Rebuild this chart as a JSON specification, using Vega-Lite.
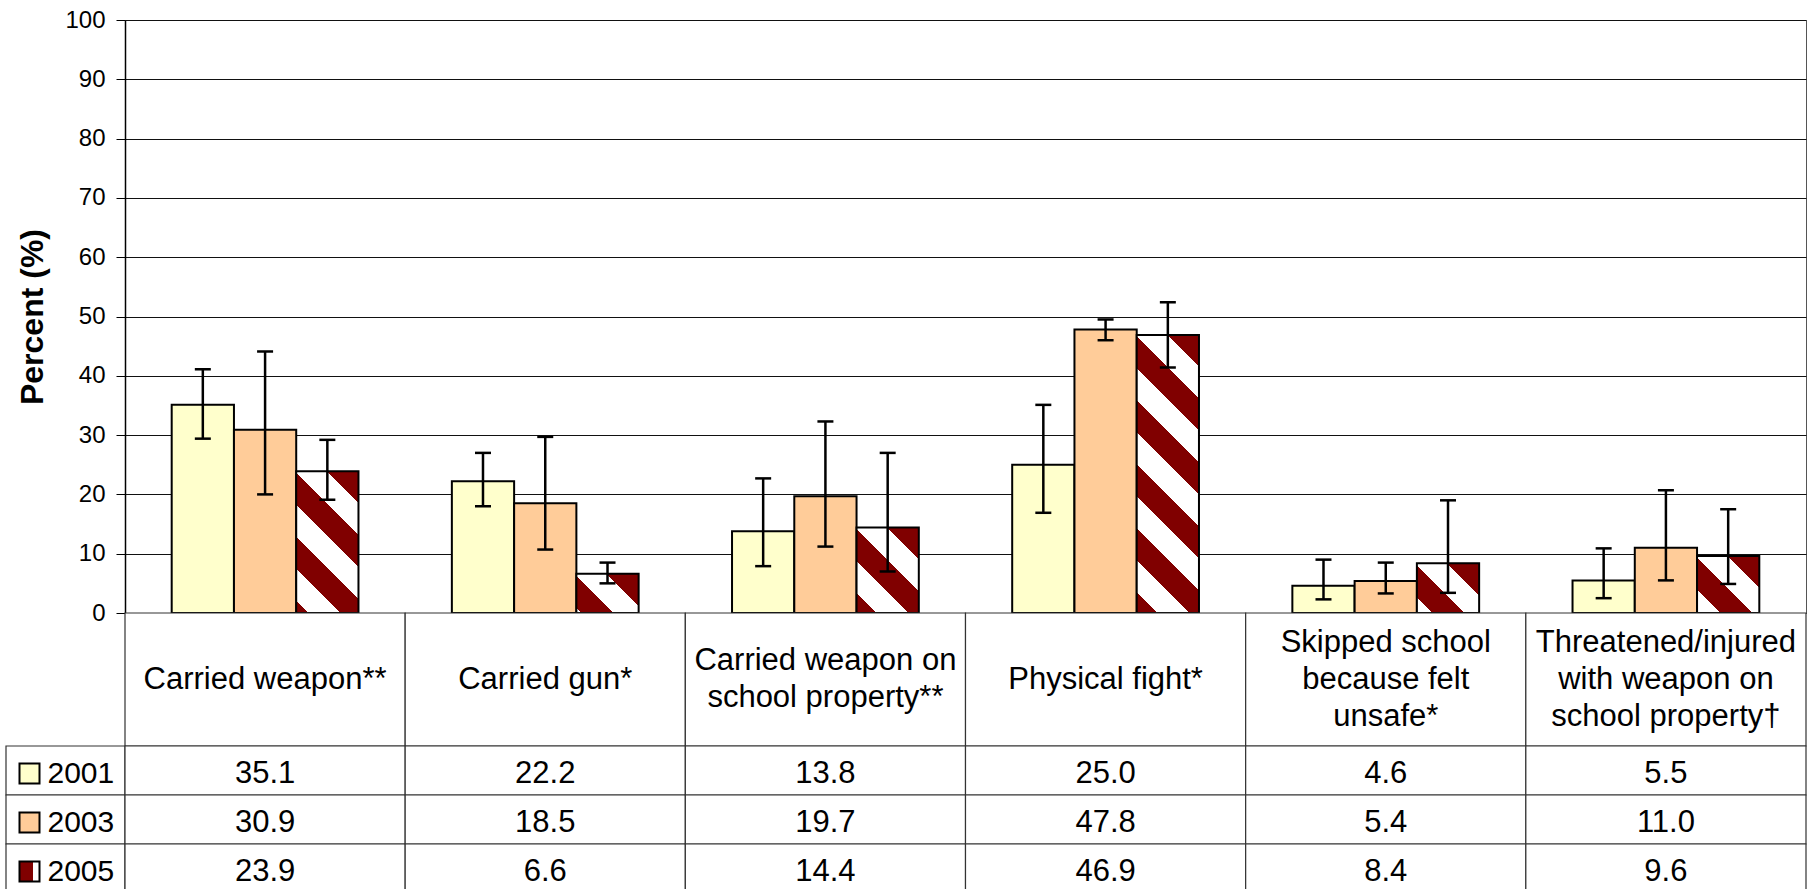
{
  "$schema": "https://vega.github.io/schema/vega-lite/v6.json",
  "background": "white",
  "padding": {"left": 5, "top": 7, "right": 0, "bottom": 0},
  "autosize": {"type": "pad"},
  "config": {"font": "Liberation Sans", "view": {"stroke": null}},
  "bounds": "flush",
  "spacing": 0,
  "columns": 2,
  "resolve": {"scale": {"x": "independent", "y": "independent"}},
  "datasets": {
    "rates": [
      {"cat": "weapon", "year": 2001, "value": 35.1, "lo": 29.4, "hi": 41.1},
      {"cat": "weapon", "year": 2003, "value": 30.9, "lo": 20.0, "hi": 44.1},
      {"cat": "weapon", "year": 2005, "value": 23.9, "lo": 19.1, "hi": 29.2},
      {"cat": "gun", "year": 2001, "value": 22.2, "lo": 18.0, "hi": 27.0},
      {"cat": "gun", "year": 2003, "value": 18.5, "lo": 10.7, "hi": 29.7},
      {"cat": "gun", "year": 2005, "value": 6.6, "lo": 5.0, "hi": 8.5},
      {"cat": "school", "year": 2001, "value": 13.8, "lo": 7.9, "hi": 22.7},
      {"cat": "school", "year": 2003, "value": 19.7, "lo": 11.2, "hi": 32.3},
      {"cat": "school", "year": 2005, "value": 14.4, "lo": 7.0, "hi": 27.0},
      {"cat": "fight", "year": 2001, "value": 25.0, "lo": 16.9, "hi": 35.1},
      {"cat": "fight", "year": 2003, "value": 47.8, "lo": 46.0, "hi": 49.5},
      {"cat": "fight", "year": 2005, "value": 46.9, "lo": 41.4, "hi": 52.4},
      {"cat": "unsafe", "year": 2001, "value": 4.6, "lo": 2.3, "hi": 9.0},
      {"cat": "unsafe", "year": 2003, "value": 5.4, "lo": 3.3, "hi": 8.5},
      {"cat": "unsafe", "year": 2005, "value": 8.4, "lo": 3.4, "hi": 19.0},
      {"cat": "threat", "year": 2001, "value": 5.5, "lo": 2.5, "hi": 10.9},
      {"cat": "threat", "year": 2003, "value": 11.0, "lo": 5.5, "hi": 20.7},
      {"cat": "threat", "year": 2005, "value": 9.6, "lo": 4.9, "hi": 17.5}
    ],
    "cats": [
      {"cat": "weapon", "label": "Carried weapon**"},
      {"cat": "gun", "label": "Carried gun*"},
      {"cat": "school", "label": "Carried weapon on\nschool property**"},
      {"cat": "fight", "label": "Physical fight*"},
      {"cat": "unsafe", "label": "Skipped school\nbecause felt\nunsafe*"},
      {"cat": "threat", "label": "Threatened/injured\nwith weapon on\nschool property†"}
    ],
    "years": [{"year": 2001}, {"year": 2003}, {"year": 2005}]
  },
  "concat": [
    {
      "width": 119, "height": 593,
      "data": {"values": []},
      "mark": "text",
      "encoding": {}
    },
    {
      "width": 1681, "height": 593,
      "data": {"name": "rates"},
      "view": {"stroke": "#555", "strokeWidth": 1},
      "encoding": {
        "x": {"field": "cat", "type": "nominal", "scale": {"domain": ["weapon", "gun", "school", "fight", "unsafe", "threat"], "paddingInner": 0, "paddingOuter": 0}, "axis": null},
        "xOffset": {"field": "year", "type": "ordinal", "scale": {"domain": [2001, 2003, 2005], "paddingInner": 0, "paddingOuter": 0.75}}
      },
      "layer": [
        {
          "mark": {"type": "bar", "stroke": "#000", "strokeWidth": 2},
          "encoding": {
            "y": {"field": "value", "type": "quantitative", "title": "Percent (%)",
              "scale": {"domain": [0, 100], "nice": false},
              "axis": {"values": [0, 10, 20, 30, 40, 50, 60, 70, 80, 90, 100], "grid": true, "gridColor": "#111", "gridWidth": 1,
                "domainColor": "#000", "domainWidth": 1.5, "tickColor": "#000", "tickSize": 9, "tickWidth": 1,
                "labelFontSize": 24, "labelColor": "#000", "labelPadding": 11, "labelFont": "Liberation Sans",
                "titleFontSize": 32, "titleFontWeight": "bold", "titleColor": "#000", "titlePadding": 15, "titleFont": "Liberation Sans"}},
            "fill": {
              "condition": [
                {"test": "datum.year == 2001", "value": "#FFFFCC"},
                {"test": "datum.year == 2003", "value": "#FFCC99"},
                {"test": "datum.cat == 'weapon'", "value": {"gradient": "linear", "x1": 1, "y1": 0, "x2": 0.4706, "y2": 1.2065, "stops": [
                  {"offset": 0, "color": "#800000"}, {"offset": 0.157, "color": "#800000"}, {"offset": 0.157, "color": "#ffffff"}, {"offset": 0.314, "color": "#ffffff"},
                  {"offset": 0.314, "color": "#800000"}, {"offset": 0.471, "color": "#800000"}, {"offset": 0.471, "color": "#ffffff"}, {"offset": 0.628, "color": "#ffffff"},
                  {"offset": 0.628, "color": "#800000"}, {"offset": 0.785, "color": "#800000"}, {"offset": 0.785, "color": "#ffffff"}, {"offset": 0.941, "color": "#ffffff"},
                  {"offset": 0.941, "color": "#800000"}, {"offset": 1, "color": "#800000"}]}},
                {"test": "datum.cat == 'gun'", "value": {"gradient": "linear", "x1": 1, "y1": 0, "x2": -0.1671, "y2": 0.7344, "stops": [
                  {"offset": 0, "color": "#800000"}, {"offset": 0.316, "color": "#800000"}, {"offset": 0.316, "color": "#ffffff"}, {"offset": 0.632, "color": "#ffffff"},
                  {"offset": 0.632, "color": "#800000"}, {"offset": 0.947, "color": "#800000"}, {"offset": 0.947, "color": "#ffffff"}, {"offset": 1, "color": "#ffffff"}]}},
                {"test": "datum.cat == 'school'", "value": {"gradient": "linear", "x1": 1, "y1": 0, "x2": 0.1776, "y2": 1.1293, "stops": [
                  {"offset": 0, "color": "#800000"}, {"offset": 0.217, "color": "#800000"}, {"offset": 0.217, "color": "#ffffff"}, {"offset": 0.434, "color": "#ffffff"},
                  {"offset": 0.434, "color": "#800000"}, {"offset": 0.65, "color": "#800000"}, {"offset": 0.65, "color": "#ffffff"}, {"offset": 0.867, "color": "#ffffff"},
                  {"offset": 0.867, "color": "#800000"}, {"offset": 1, "color": "#800000"}]}},
                {"test": "datum.cat == 'fight'", "value": {"gradient": "linear", "x1": 1, "y1": 0, "x2": 0.7394, "y2": 1.1654, "stops": [
                  {"offset": 0, "color": "#800000"}, {"offset": 0.094, "color": "#800000"}, {"offset": 0.094, "color": "#ffffff"}, {"offset": 0.188, "color": "#ffffff"},
                  {"offset": 0.188, "color": "#800000"}, {"offset": 0.282, "color": "#800000"}, {"offset": 0.282, "color": "#ffffff"}, {"offset": 0.376, "color": "#ffffff"},
                  {"offset": 0.376, "color": "#800000"}, {"offset": 0.47, "color": "#800000"}, {"offset": 0.47, "color": "#ffffff"}, {"offset": 0.564, "color": "#ffffff"},
                  {"offset": 0.564, "color": "#800000"}, {"offset": 0.658, "color": "#800000"}, {"offset": 0.658, "color": "#ffffff"}, {"offset": 0.752, "color": "#ffffff"},
                  {"offset": 0.752, "color": "#800000"}, {"offset": 0.846, "color": "#800000"}, {"offset": 0.846, "color": "#ffffff"}, {"offset": 0.94, "color": "#ffffff"},
                  {"offset": 0.94, "color": "#800000"}, {"offset": 1, "color": "#800000"}]}},
                {"test": "datum.cat == 'unsafe'", "value": {"gradient": "linear", "x1": 1, "y1": 0, "x2": -0.0971, "y2": 0.8787, "stops": [
                  {"offset": 0, "color": "#800000"}, {"offset": 0.286, "color": "#800000"}, {"offset": 0.286, "color": "#ffffff"}, {"offset": 0.571, "color": "#ffffff"},
                  {"offset": 0.571, "color": "#800000"}, {"offset": 0.857, "color": "#800000"}, {"offset": 0.857, "color": "#ffffff"}, {"offset": 1, "color": "#ffffff"}]}},
                {"test": "datum.cat == 'threat'", "value": {"gradient": "linear", "x1": 1, "y1": 0, "x2": -0.0421, "y2": 0.954, "stops": [
                  {"offset": 0, "color": "#800000"}, {"offset": 0.269, "color": "#800000"}, {"offset": 0.269, "color": "#ffffff"}, {"offset": 0.537, "color": "#ffffff"},
                  {"offset": 0.537, "color": "#800000"}, {"offset": 0.806, "color": "#800000"}, {"offset": 0.806, "color": "#ffffff"}, {"offset": 1, "color": "#ffffff"}]}}
              ],
              "value": "#800000"
            }
          }
        },
        {
          "mark": {"type": "rule", "color": "#000", "strokeWidth": 2.5},
          "encoding": {
            "y": {"field": "lo", "type": "quantitative", "title": "Percent (%)"},
            "y2": {"field": "hi"}
          }
        },
        {
          "mark": {"type": "tick", "orient": "horizontal", "color": "#000", "size": 16, "thickness": 2.5, "opacity": 1},
          "encoding": {"y": {"field": "lo", "type": "quantitative", "title": "Percent (%)"}}
        },
        {
          "mark": {"type": "tick", "orient": "horizontal", "color": "#000", "size": 16, "thickness": 2.5, "opacity": 1},
          "encoding": {"y": {"field": "hi", "type": "quantitative", "title": "Percent (%)"}}
        }
      ]
    },
    {
      "width": 119, "height": 133,
      "data": {"values": []},
      "mark": "text",
      "encoding": {}
    },
    {
      "width": 1681, "height": 133,
      "data": {"name": "cats"},
      "encoding": {
        "x": {"field": "cat", "type": "nominal", "scale": {"domain": ["weapon", "gun", "school", "fight", "unsafe", "threat"], "paddingInner": 0, "paddingOuter": 0}, "axis": null}
      },
      "layer": [
        {"mark": {"type": "rect", "fill": "white", "stroke": "#333", "strokeWidth": 1.2}},
        {"transform": [{"filter": "datum.cat == 'weapon' || datum.cat == 'gun' || datum.cat == 'fight'"}],
          "mark": {"type": "text", "fontSize": 31, "lineBreak": "\n", "lineHeight": 37, "baseline": "middle", "color": "#000"},
          "encoding": {"text": {"field": "label", "type": "nominal"}}},
        {"transform": [{"filter": "datum.cat == 'school'"}],
          "mark": {"type": "text", "fontSize": 31, "lineBreak": "\n", "lineHeight": 37, "baseline": "middle", "dy": -18.5, "color": "#000"},
          "encoding": {"text": {"field": "label", "type": "nominal"}}},
        {"transform": [{"filter": "datum.cat == 'unsafe' || datum.cat == 'threat'"}],
          "mark": {"type": "text", "fontSize": 31, "lineBreak": "\n", "lineHeight": 37, "baseline": "middle", "dy": -37, "color": "#000"},
          "encoding": {"text": {"field": "label", "type": "nominal"}}}
      ]
    },
    {
      "width": 119, "height": 147,
      "data": {"name": "years"},
      "encoding": {
        "y": {"field": "year", "type": "ordinal", "scale": {"domain": [2001, 2003, 2005], "paddingInner": 0, "paddingOuter": 0}, "axis": null}
      },
      "layer": [
        {"mark": {"type": "rect", "fill": "white", "stroke": "#333", "strokeWidth": 1.2}},
        {"mark": {"type": "point", "shape": "square", "size": 400, "filled": true, "opacity": 1, "stroke": "#000", "strokeWidth": 2, "xOffset": -36, "yOffset": 3},
          "encoding": {
            "fill": {
              "condition": [
                {"test": "datum.year == 2001", "value": "#FFFFCC"},
                {"test": "datum.year == 2003", "value": "#FFCC99"}
              ],
              "value": {"gradient": "linear", "x1": 0, "y1": 0, "x2": 1, "y2": 0, "stops": [
                {"offset": 0, "color": "#800000"}, {"offset": 0.68, "color": "#800000"}, {"offset": 0.68, "color": "#ffffff"}, {"offset": 1, "color": "#ffffff"}]}
            }
          }
        },
        {"mark": {"type": "text", "fontSize": 30, "align": "left", "dx": -18, "dy": 3, "color": "#000"},
          "encoding": {"text": {"field": "year", "type": "ordinal"}}}
      ]
    },
    {
      "width": 1681, "height": 147,
      "data": {"name": "rates"},
      "encoding": {
        "x": {"field": "cat", "type": "nominal", "scale": {"domain": ["weapon", "gun", "school", "fight", "unsafe", "threat"], "paddingInner": 0, "paddingOuter": 0}, "axis": null},
        "y": {"field": "year", "type": "ordinal", "scale": {"domain": [2001, 2003, 2005], "paddingInner": 0, "paddingOuter": 0}, "axis": null}
      },
      "layer": [
        {"mark": {"type": "rect", "fill": "white", "stroke": "#333", "strokeWidth": 1.2}},
        {"mark": {"type": "text", "fontSize": 31, "baseline": "middle", "dy": 3, "color": "#000"},
          "encoding": {"text": {"field": "value", "type": "quantitative", "format": ".1f"}}}
      ]
    }
  ]
}
